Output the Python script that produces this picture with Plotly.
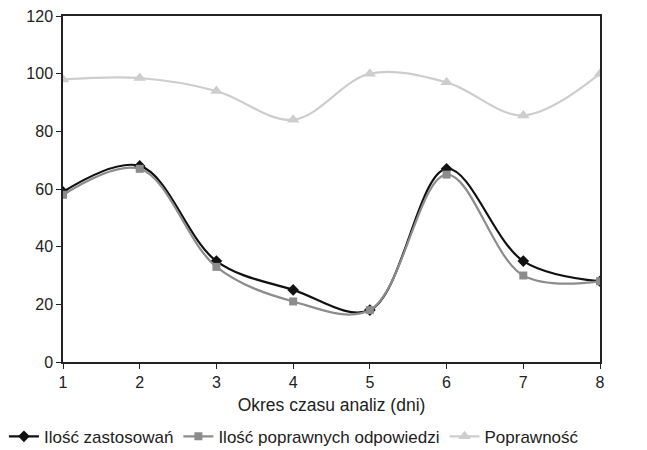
import plotly.graph_objects as go

# Days of the analysis period
days = [1, 2, 3, 4, 5, 6, 7, 8]

# Series values
uses = [59, 68, 35, 25, 18, 67, 35, 28]
correct_answers = [58, 67, 33, 21, 18, 65, 30, 28]
accuracy = [98, 98.5, 94, 84, 100, 97, 85.5, 100]

series_names = ["Ilość zastosowań", "Ilość poprawnych odpowiedzi", "Poprawność"]
x_title = "Okres czasu analiz (dni)"

FONT = "Liberation Sans, Arial, sans-serif"
INK = "#222222"

fig = go.Figure()

styles = [
    (uses, "#111111", "diamond", 9),
    (correct_answers, "#8c8c8c", "square", 8),
    (accuracy, "#cdcdcd", "triangle-up", 11),
]
for name, (vals, color, symbol, size) in zip(series_names, styles):
    fig.add_trace(go.Scatter(
        x=days, y=vals, name=name,
        mode="lines+markers",
        line=dict(color=color, width=2.2, shape="spline", smoothing=1.0),
        marker=dict(symbol=symbol, size=size, color=color),
    ))

fig.update_layout(
    width=647, height=450,
    margin=dict(l=63, r=47, t=16, b=88, autoexpand=False),
    paper_bgcolor="white", plot_bgcolor="white",
    font=dict(family=FONT, size=16, color=INK),
    showlegend=True,
    legend=dict(
        orientation="h",
        x=-0.11, xanchor="left",
        y=-0.216, yanchor="middle",
        font=dict(family=FONT, size=17, color=INK),
        traceorder="normal",
        bgcolor="rgba(0,0,0,0)",
    ),
    xaxis=dict(
        range=[1, 8], tickvals=days, ticks="outside", ticklen=5,
        tickcolor=INK, showgrid=False, zeroline=False,
        showline=True, linecolor=INK, linewidth=1.5, mirror=True,
        tickfont=dict(size=16),
        title=dict(text=x_title, standoff=9, font=dict(family=FONT, size=17.5)),
    ),
    yaxis=dict(
        range=[0, 120], dtick=20, ticks="outside", ticklen=5,
        tickcolor=INK, showgrid=False, zeroline=False,
        showline=True, linecolor=INK, linewidth=1.5, mirror=True,
        tickfont=dict(size=16),
    ),
)

fig.write_html("out.html")
